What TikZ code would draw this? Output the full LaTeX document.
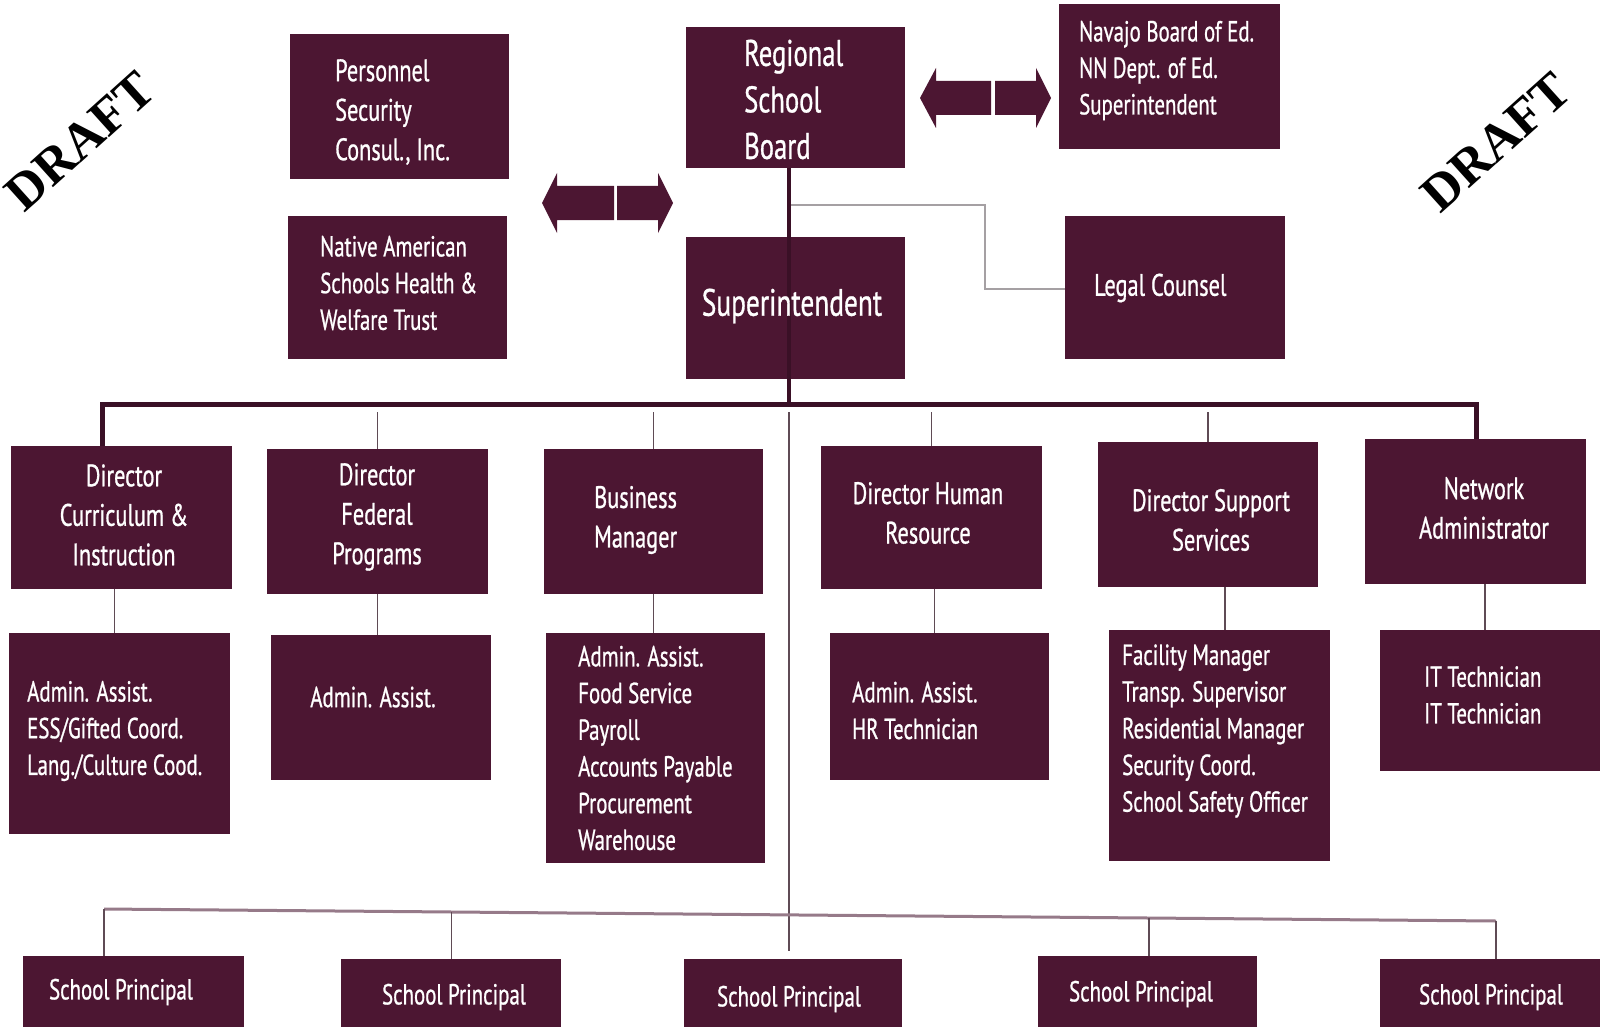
\documentclass[tikz,border=0pt]{standalone}
\usepackage{fontspec}
\usepackage{xcolor}
\usepackage{tikz}
\usetikzlibrary{calc}
\newfontfamily\boxfont{PT Sans}[FakeStretch=0.72, FakeBold=0.8]
\newfontfamily\draftfont{Liberation Serif}
\definecolor{boardcolor}{RGB}{76,22,50}
\definecolor{barcolor}{RGB}{58,16,38}
\definecolor{tickcolor}{RGB}{95,75,85}
\definecolor{legalgray}{RGB}{165,160,163}
\definecolor{schoolline}{RGB}{150,122,137}

\begin{document}
\begin{tikzpicture}[x=1pt, y=-1pt,
    orgbox/.style={fill=boardcolor, inner sep=0pt, minimum width=220pt, minimum height=143pt},
    lbl/.style={text=white, inner sep=0pt, align=left, font=\boxfont\fontsize{31}{39.5}\selectfont},
    smalllbl/.style={lbl, font=\boxfont\fontsize{29}{36.7}\selectfont},
    mainline/.style={draw=barcolor, line width=4pt},
    tickline/.style={draw=tickcolor, line width=1.3pt},
    legalline/.style={draw=legalgray, line width=2.5pt},
    schoolbar/.style={draw=schoolline, line width=3pt},
    draftmark/.style={rotate=42, font=\draftfont\bfseries\fontsize{52}{52}\selectfont}]
    \useasboundingbox (0,0) rectangle (1600,1027);
    \clip (0,0) rectangle (1600,1027);

    % DRAFT marks
    \node[draftmark] (draftL) at (80,141) {DRAFT};
    \node[draftmark] (draftR) at (1496,142) {DRAFT};

    % Top row
    \node[orgbox, minimum width=219pt, minimum height=145pt] (psc) at (399.5,106.5) {};
    \node[orgbox, minimum width=219pt] (nast) at (397.5,287.5) {};
    \node[orgbox, minimum width=219pt, minimum height=141pt] (board) at (795.5,97.5) {};
    \node[orgbox, minimum width=219pt, minimum height=142pt] (supt) at (795.5,308) {};
    \node[orgbox, minimum width=221pt, minimum height=145pt] (nnbe) at (1169.5,76.5) {};
    \node[orgbox] (legal) at (1175,287.5) {};

    % Double arrows
    \fill[boardcolor] (614,186) -- (557,186) -- (557,173) -- (542,203) -- (557,233) -- (557,220) -- (614,220) -- cycle;
    \fill[boardcolor] (617,186) -- (658,186) -- (658,173) -- (673,203) -- (658,233) -- (658,220) -- (617,220) -- cycle;
    \fill[boardcolor] (991,81) -- (936,81) -- (936,68) -- (920,98) -- (936,128) -- (936,115) -- (991,115) -- cycle;
    \fill[boardcolor] (995,81) -- (1036,81) -- (1036,68) -- (1051,98) -- (1036,128) -- (1036,115) -- (995,115) -- cycle;

    % Directors
    \node[orgbox, minimum width=221pt] (dci) at (121.5,517.5) {};
    \node[orgbox, minimum width=221pt, minimum height=145pt] (dfp) at (377.5,521.5) {};
    \node[orgbox, minimum width=219pt, minimum height=145pt] (bm) at (653.5,521.5) {};
    \node[orgbox, minimum width=221pt] (dhr) at (931.5,517.5) {};
    \node[orgbox, minimum height=145pt] (dss) at (1208,514.5) {};
    \node[orgbox, minimum width=221pt, minimum height=145pt] (na) at (1475.5,511.5) {};

    % Staff under directors
    \node[orgbox, minimum width=221pt, minimum height=201pt] (s1) at (119.5,733.5) {};
    \node[orgbox, minimum height=145pt] (s2) at (381,707.5) {};
    \node[orgbox, minimum width=219pt, minimum height=230pt] (s3) at (655.5,748) {};
    \node[orgbox, minimum width=219pt, minimum height=147pt] (s4) at (939.5,706.5) {};
    \node[orgbox, minimum width=221pt, minimum height=231pt] (s5) at (1219.5,745.5) {};
    \node[orgbox, minimum height=141pt] (s6) at (1490,700.5) {};

    % Principals
    \node[orgbox, minimum width=221pt, minimum height=84pt] (p1) at (133.5,998) {};
    \node[orgbox, minimum height=81pt] (p2) at (451,999.5) {};
    \node[orgbox, minimum width=218pt, minimum height=81pt] (p3) at (793,999.5) {};
    \node[orgbox, minimum width=219pt, minimum height=84pt] (p4) at (1147.5,998) {};
    \node[orgbox, minimum height=81pt] (p5) at (1490,999.5) {};

    % Lines
    \coordinate (hub) at (789,404);
    \coordinate (barL) at (102,404);
    \coordinate (barR) at (1476,404);
    \coordinate (tick) at (0,412);
    \coordinate (lc) at (985,289);
    \draw[legalline] (hub |- 0,205) -| (lc) -- (lc -| legal.west);
    \draw[mainline] (board.south -| hub) -- (hub);
    \draw[mainline, line width=5pt] (dci.north -| barL) -- (barL) -- (barR) -- (na.north -| barR);
    \draw[tickline] (dfp.north) -- (dfp.north |- tick);
    \draw[tickline] (bm.north) -- (bm.north |- tick);
    \draw[tickline] (dhr.north) -- (dhr.north |- tick);
    \draw[tickline] (dss.north) -- (dss.north |- tick);
    \draw[tickline] (hub |- tick) -- ($(p3.north -| hub)+(0,-8)$);
    \draw[tickline] ([xshift=-5pt]s1.north) -- ([xshift=-5pt]s1.north |- dci.south);
    \draw[tickline] (dfp.south) -- (dfp.south |- s2.north);
    \draw[tickline] (bm.south) -- (bm.south |- s3.north);
    \draw[tickline] ([xshift=3pt]dhr.south) -- ([xshift=3pt]dhr.south |- s4.north);
    \draw[tickline] ([xshift=17pt]dss.south) -- ([xshift=17pt]dss.south |- s5.north);
    \draw[tickline] ([xshift=-5pt]s6.north) -- ([xshift=-5pt]s6.north |- na.south);

    \coordinate (baseL) at (104,909);
    \coordinate (baseR) at (1496,921);
    \coordinate (q2) at ($(baseL)!0.2497!(baseR)$);
    \coordinate (q4) at ($(baseL)!0.7507!(baseR)$);
    \draw[schoolbar] (baseL) -- (baseR);
    \draw[tickline] (baseL) -- (baseL |- p1.north);
    \draw[tickline] (q2) -- (q2 |- p2.north);
    \draw[tickline] (q4) -- (q4 |- p4.north);
    \draw[tickline] (baseR) -- (baseR |- p5.north);

    % Texts
    \node[lbl, anchor=west] (psct) at (335,112) {Personnel\\Security\\Consul., Inc.};
    \node[smalllbl, anchor=west] (nastt) at (320,283) {Native American\\Schools Health \&\\Welfare Trust};
    \node[lbl, anchor=west, font=\boxfont\fontsize{37}{46.5}\selectfont] (boardt) at (744,99.5) {Regional\\School\\Board};
    \node[lbl, font=\boxfont\fontsize{38}{46}\selectfont] (suptt) at (792,306) {Superintendent};
    \node[smalllbl, anchor=west, font=\boxfont\fontsize{29}{36.5}\selectfont] (nnbet) at (1079,70.5) {Navajo Board of Ed.\\NN Dept. of Ed.\\Superintendent};
    \node[lbl, anchor=west] (legalt) at (1094,288) {Legal Counsel};

    \node[lbl, align=center] (dcit) at (124,515) {Director\\Curriculum \&\\Instruction};
    \node[lbl, align=center] (dfpt) at (377,517) {Director\\Federal\\Programs};
    \node[lbl, anchor=west] (bmt) at (594,520) {Business\\Manager};
    \node[lbl, align=center] (dhrt) at (928,513) {Director Human\\Resource};
    \node[lbl, align=center] (dsst) at (1211,520) {Director Support\\Services};
    \node[lbl, align=center] (nat) at (1484,508) {Network\\Administrator};

    \node[smalllbl, anchor=west] (s1t) at (27,731) {Admin. Assist.\\ESS/Gifted Coord.\\Lang./Culture Cood.};
    \node[smalllbl] (s2t) at (373,697) {Admin. Assist.};
    \node[smalllbl, anchor=west] (s3t) at (578,748) {Admin. Assist.\\Food Service\\Payroll\\Accounts Payable\\Procurement\\Warehouse};
    \node[smalllbl, anchor=west] (s4t) at (852,710.5) {Admin. Assist.\\HR Technician};
    \node[smalllbl, anchor=west] (s5t) at (1122,731) {Facility Manager\\Transp. Supervisor\\Residential Manager\\Security Coord.\\School Safety Officer};
    \node[smalllbl, anchor=west] (s6t) at (1424,695) {IT Technician\\IT Technician};

    \node[smalllbl] (p1t) at (121,992) {School Principal};
    \node[smalllbl] (p2t) at (454,997) {School Principal};
    \node[smalllbl] (p3t) at (789,999) {School Principal};
    \node[smalllbl] (p4t) at (1141,994) {School Principal};
    \node[smalllbl] (p5t) at (1491,997) {School Principal};
\end{tikzpicture}
\end{document}
